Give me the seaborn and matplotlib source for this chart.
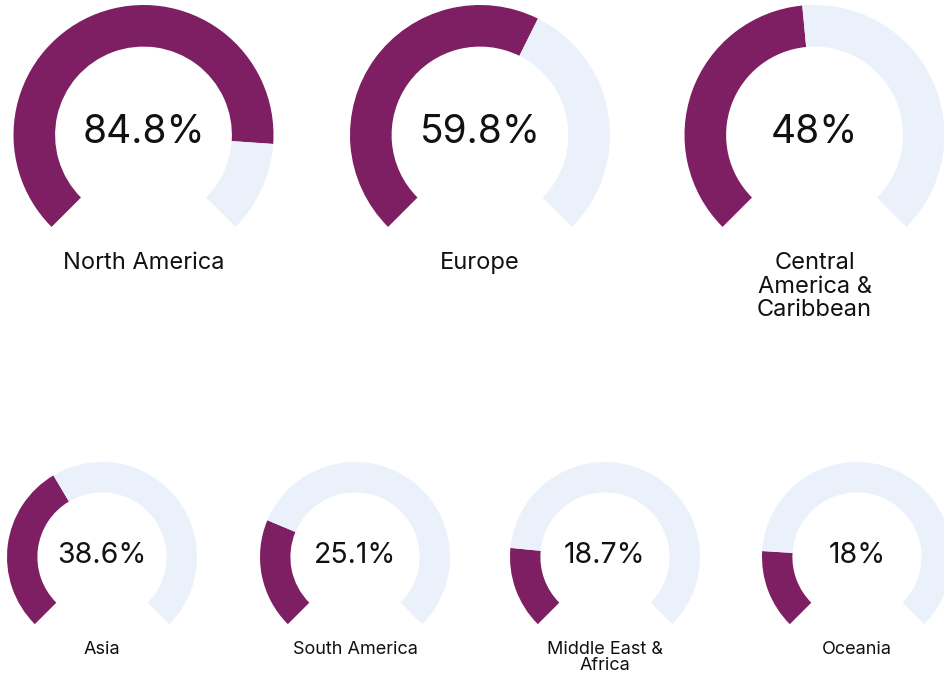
import matplotlib.pyplot as plt
import seaborn as sns

sns.set_theme(style="white")
plt.rcParams["font.family"] = ["Inter", "DejaVu Sans"]

# Data
regions = ["North America", "Europe", "Central\nAmerica &\nCaribbean",
           "Asia", "South America", "Middle East &\nAfrica", "Oceania"]
shares = [84.8, 59.8, 48, 38.6, 25.1, 18.7, 18]

PURPLE = "#7f1f63"
LIGHT = "#eaf1fb"

# gauge layout in pixels: centre x, centre y, outer radius
W, H = 945, 674
layout = [
    (143.5, 135, 130), (480, 135, 130), (814.5, 135, 130),
    (102, 557, 95), (355, 557, 95), (605, 557, 95), (857, 557, 95),
]

fig = plt.figure(figsize=(W / 100, H / 100), dpi=100)

for region, share, (cx, cy, r) in zip(regions, shares, layout):
    big = r > 100
    ax = fig.add_axes([(cx - r) / W, 1 - (cy + r) / H, 2 * r / W, 2 * r / H])
    # gauge covers 270 degrees, the last 90 are the hidden gap
    ax.pie([share * 2.7, (100 - share) * 2.7, 90],
           colors=[PURPLE, LIGHT, "none"],
           startangle=225, counterclock=False, radius=1,
           wedgeprops=dict(width=0.32, linewidth=0))
    ax.set_xlim(-1, 1)
    ax.set_ylim(-1, 1)
    ax.set_aspect("equal")
    ax.axis("off")
    ax.text(0, 0.02, f"{share:g}%", ha="center", va="center",
            fontsize=28 if big else 20.5, fontweight="normal", color="#111111")
    ax.text(0, -0.9 if big else -0.88, region, ha="center", va="top",
            clip_on=False, fontsize=17 if big else 13, fontweight="normal",
            color="#111111", linespacing=1.1 if big else 0.95)

fig.savefig("out.png", dpi=100)
